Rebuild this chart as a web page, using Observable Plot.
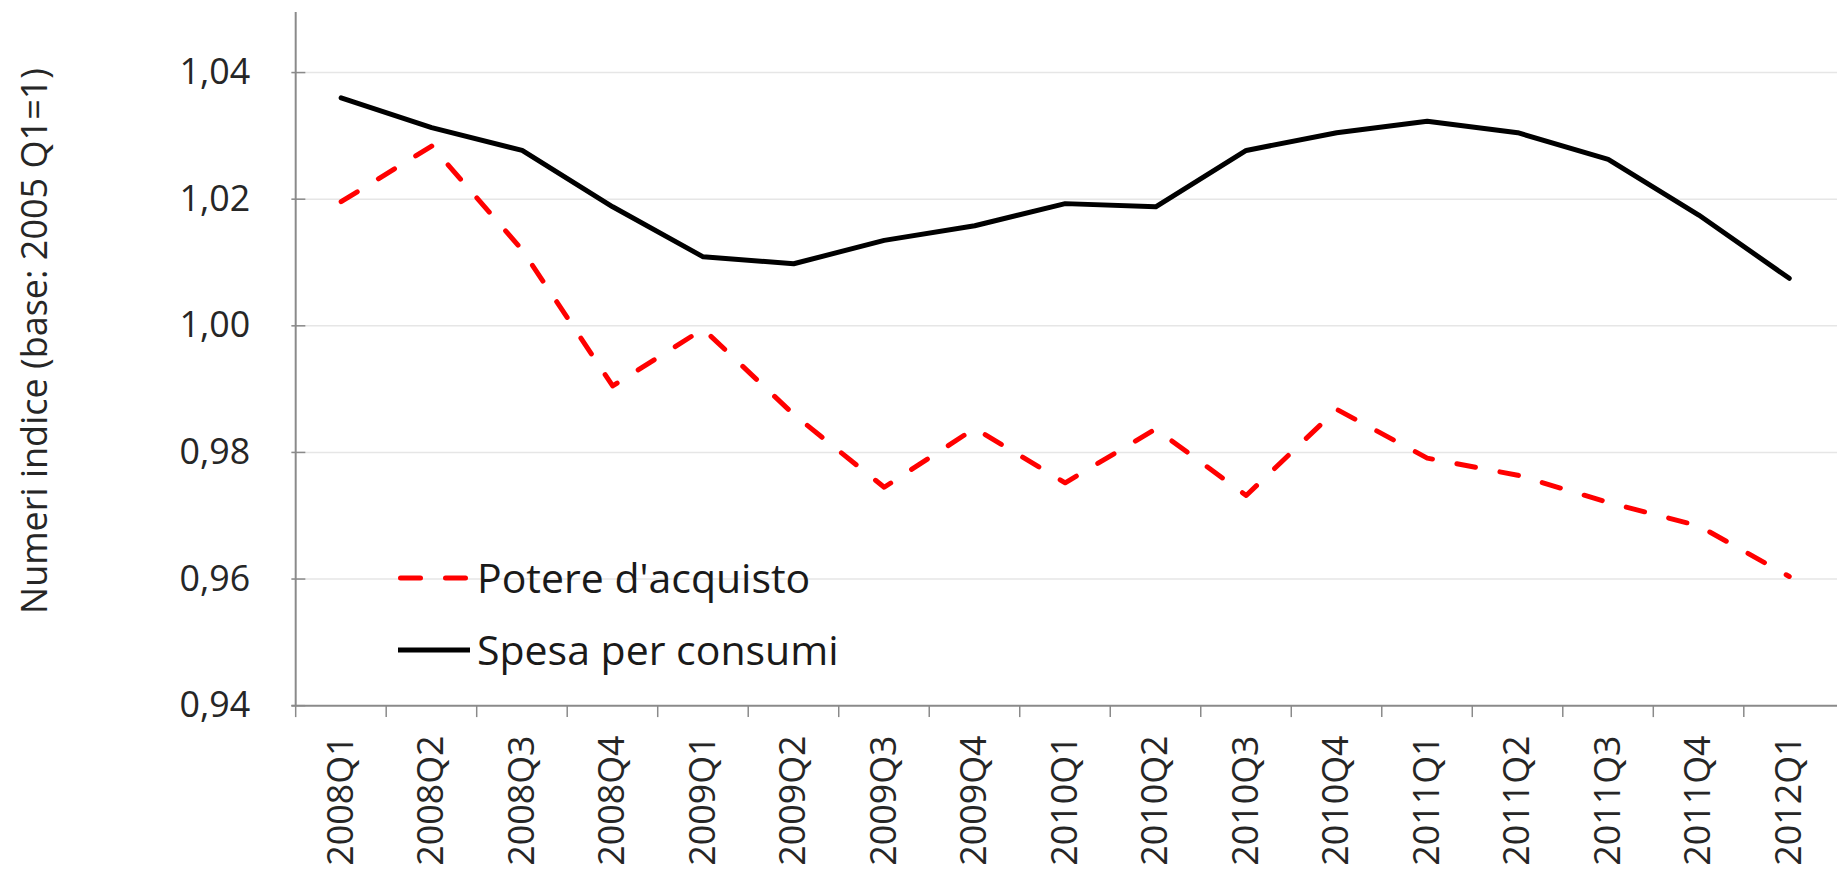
<!DOCTYPE html>
<html>
<head>
<meta charset="utf-8">
<script src="https://cdn.jsdelivr.net/npm/d3@7"></script>
<script src="https://cdn.jsdelivr.net/npm/@observablehq/plot@0.6"></script>
<style>
  html, body { margin: 0; padding: 0; background: #fff; overflow: hidden; }
  #wrap { position: relative; width: 1837px; height: 874px; overflow: hidden; }
  #title { position: absolute; left: 33px; top: 341px; transform: translate(-50%, -50%) rotate(-90deg);
           white-space: nowrap; font-family: 'Open Sans', sans-serif; font-size: 36px; color: #262626; }
  #legend { position: absolute; left: 0; top: 0; pointer-events: none; }
</style>
</head>
<body>
<div id="wrap">
  <div id="chart"></div>
  <div id="title">Numeri indice (base: 2005 Q1=1)</div>
</div>
<script>
const categories = ["2008Q1","2008Q2","2008Q3","2008Q4","2009Q1","2009Q2","2009Q3","2009Q4",
  "2010Q1","2010Q2","2010Q3","2010Q4","2011Q1","2011Q2","2011Q3","2011Q4","2012Q1"];
const potereAcquisto = [1.0196, 1.0284, 1.0120, 0.9905, 0.9995, 0.9860, 0.9745, 0.9838,
  0.9752, 0.9837, 0.9732, 0.9868, 0.9791, 0.9764, 0.9721, 0.9684, 0.9604];
const spesaConsumi = [1.0360, 1.0313, 1.0277, 1.0188, 1.0109, 1.0098, 1.0135, 1.0158,
  1.0193, 1.0188, 1.0277, 1.0305, 1.0323, 1.0305, 1.0263, 1.0175, 1.0075];
const yTicks = [0.94, 0.96, 0.98, 1.00, 1.02, 1.04];
const seriesNames = ["Potere d'acquisto", "Spesa per consumi"];

const potereData = categories.map((q, i) => ({q, v: potereAcquisto[i]}));
const spesaData = categories.map((q, i) => ({q, v: spesaConsumi[i]}));

const W = 1847, H = 874, ML = 293, MR = 0, MT = 12, MB = 165;
const bw = (W - ML - MR) / categories.length;
const axisGray = "#8a8a8a";
const fmt = d => d.toFixed(2).replace(".", ",");

const chart = Plot.plot({
  width: W, height: H,
  marginLeft: ML, marginRight: MR, marginTop: MT, marginBottom: MB,
  style: {fontFamily: "'Open Sans', sans-serif", fontSize: "36px", color: "#262626", background: "white", overflow: "visible"},
  x: {type: "band", domain: categories, padding: 0, label: null},
  y: {domain: [0.94, 1.0495], label: null},
  marks: [
    Plot.ruleY(yTicks.slice(1), {stroke: "#e6e6e6", strokeWidth: 1.5}),
    // inward tick marks on the y axis
    Plot.axisY({ticks: yTicks, tickSize: 14, dx: 14, fill: "none", stroke: axisGray, strokeWidth: 1.5, label: null}),
    Plot.axisY({ticks: yTicks, tickFormat: fmt, tickSize: 0, tickPadding: 42, label: null}),
    // x ticks on category boundaries, pointing outward
    Plot.axisX({tickSize: 12, dx: -bw / 2, fill: "none", stroke: axisGray, strokeWidth: 1.5, label: null}),
    Plot.axisX({tickSize: 0, tickPadding: 30, tickRotate: -90, label: null}),
    Plot.ruleY([yTicks[0]], {stroke: axisGray, strokeWidth: 2}),
    Plot.ruleX([categories[0]], {dx: -bw / 2, stroke: axisGray, strokeWidth: 2}),
    Plot.line(spesaData, {x: "q", y: "v", stroke: "#000", strokeWidth: 5, strokeLinejoin: "round", strokeLinecap: "round"}),
    Plot.line(potereData, {x: "q", y: "v", stroke: "#ff0000", strokeWidth: 5, strokeDasharray: "19,25", strokeLinecap: "round", strokeLinejoin: "round"})
  ]
});
document.getElementById("chart").appendChild(chart);

// Legend overlay (inside the plot area, like the original)
const ns = "http://www.w3.org/2000/svg";
const leg = document.createElementNS(ns, "svg");
leg.setAttribute("id", "legend");
leg.setAttribute("width", 1837);
leg.setAttribute("height", 874);
const items = [
  {name: seriesNames[0], color: "#ff0000", dash: "20,25", cap: "round", y: 578},
  {name: seriesNames[1], color: "#000", dash: null, cap: "butt", y: 650}
];
items.forEach(it => {
  const l = document.createElementNS(ns, "line");
  l.setAttribute("x1", it.dash ? 400.5 : 398);
  l.setAttribute("x2", it.dash ? 465.5 : 470);
  l.setAttribute("y1", it.y); l.setAttribute("y2", it.y);
  l.setAttribute("stroke", it.color);
  l.setAttribute("stroke-width", 5);
  l.setAttribute("stroke-linecap", it.cap);
  if (it.dash) l.setAttribute("stroke-dasharray", it.dash);
  leg.appendChild(l);
  const t = document.createElementNS(ns, "text");
  t.setAttribute("x", 477);
  t.setAttribute("y", it.y + 14.5);
  t.setAttribute("font-family", "'Open Sans', sans-serif");
  t.setAttribute("font-size", 41);
  t.setAttribute("fill", "#1a1a1a");
  t.textContent = it.name;
  leg.appendChild(t);
});
document.getElementById("wrap").appendChild(leg);
</script>
</body>
</html>
